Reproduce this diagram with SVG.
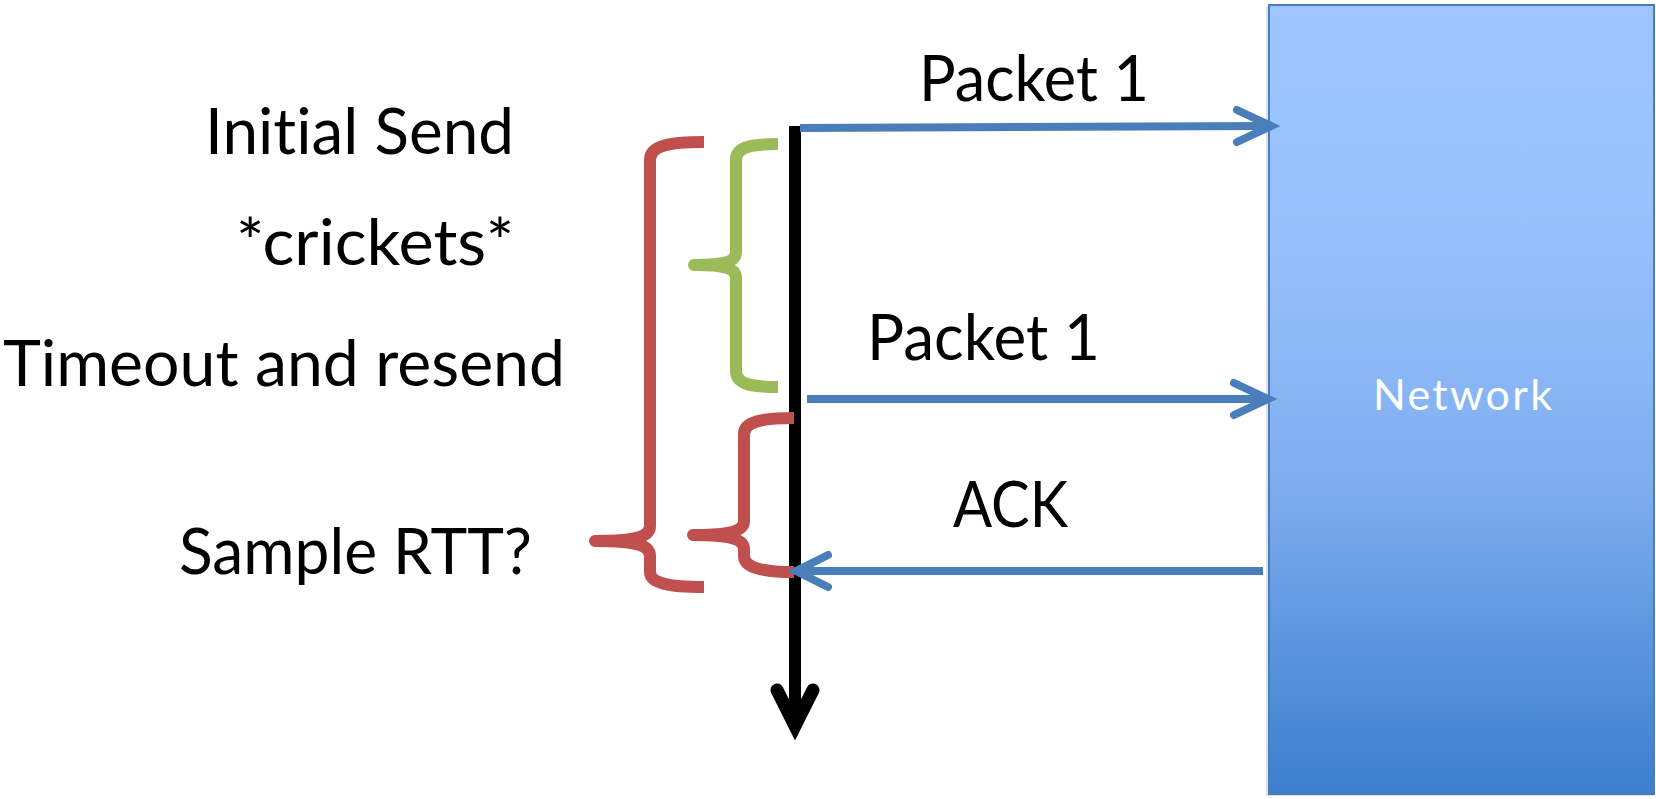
<svg xmlns="http://www.w3.org/2000/svg" width="1656" height="799" viewBox="0 0 1656 799">
  <style>
    text { font-variant-ligatures: none; }
    .label { font-family: Lato, "Open Sans", "Liberation Sans", sans-serif; font-size: 63px; fill: #000; }
    .net { font-family: Lato, "Open Sans", "Liberation Sans", sans-serif; font-size: 43px; fill: #fff; }
    .msg { fill: none; stroke: #4A7EBB; stroke-width: 8; stroke-linecap: butt; }
    .head { fill: none; stroke: #4A7EBB; stroke-width: 8; stroke-linecap: round; stroke-linejoin: miter; }
    .brace { fill: none; stroke-width: 12; stroke-linecap: butt; stroke-linejoin: round; }
    .red { stroke: #C0504D; }
    .green { stroke: #9BBB59; }
  </style>
  <defs>
    <linearGradient id="netFill" x1="0" y1="0" x2="0" y2="1">
      <stop offset="0" stop-color="#9EC5FF"/>
      <stop offset="0.3" stop-color="#97C0FC"/>
      <stop offset="0.6" stop-color="#7FAEEF"/>
      <stop offset="1" stop-color="#3C7ECE"/>
    </linearGradient>
  </defs>
  <rect width="1656" height="799" fill="#fff"/>

  <!-- network box -->
  <g id="network">
    <rect x="1266" y="7" width="388" height="789" fill="#000" opacity="0.12"/>
    <rect x="1269" y="5" width="385" height="789" fill="url(#netFill)" stroke="#4A7EBB" stroke-width="2"/>
    <text class="net" x="1373" y="410" textLength="179" lengthAdjust="spacing">Network</text>
  </g>

  <!-- sender timeline -->
  <g id="timeline">
    <line x1="795" y1="126" x2="795" y2="726" stroke="#000" stroke-width="12"/>
    <polyline points="777,690 795,726 813,690" fill="none" stroke="#000" stroke-width="13" stroke-linecap="round" stroke-linejoin="miter" stroke-miterlimit="10"/>
  </g>

  <!-- braces -->
  <g id="brace-wait">
    <path class="brace green" d="M 778,144 C 748,144 736,148 736,160 L 736,252 C 736,262 725,265 694,265 C 725,265 736,268 736,278 L 736,371 C 736,383 748,387 778,387"/>
  </g>
  <g id="brace-total">
    <path class="brace red" d="M 704,142 C 668,142 650,146 650,160 L 650,526 C 650,537 636,541 595,541 C 636,541 650,545 650,556 L 650,572 C 650,583 668,587 704,587"/>
  </g>
  <g id="brace-resend">
    <path class="brace red" d="M 794,418 C 760,418 744,422 744,434 L 744,521 C 744,531 730,535 693,535 C 730,535 744,539 744,549 L 744,556 C 744,567 760,572 794,572"/>
  </g>

  <!-- labels -->
  <g id="labels">
    <text class="label" x="205" y="154" textLength="309" lengthAdjust="spacingAndGlyphs">Initial Send</text>
    <text class="label" x="236" y="265" textLength="278" lengthAdjust="spacingAndGlyphs">*crickets*</text>
    <text class="label" x="3" y="386" textLength="562" lengthAdjust="spacingAndGlyphs">Timeout and resend</text>
    <text class="label" x="179" y="574" textLength="353" lengthAdjust="spacingAndGlyphs">Sample RTT?</text>
    <text class="label" x="919" y="101" textLength="230" lengthAdjust="spacingAndGlyphs">Packet 1</text>
    <text class="label" x="867" y="360" textLength="233" lengthAdjust="spacingAndGlyphs">Packet 1</text>
    <text class="label" x="953" y="527" textLength="115" lengthAdjust="spacingAndGlyphs">ACK</text>
  </g>

  <!-- messages -->
  <g id="connectors">
    <line class="msg" x1="800" y1="128" x2="1270" y2="126"/>
    <polyline class="head" points="1237,110 1271,126 1237,142"/>
    <line class="msg" x1="807" y1="399" x2="1266" y2="399"/>
    <polyline class="head" points="1234,383 1268,399 1234,415"/>
    <line class="msg" x1="1263" y1="571" x2="798" y2="571"/>
    <polyline class="head" points="828,555 796,571 828,587"/>
  </g>
</svg>
